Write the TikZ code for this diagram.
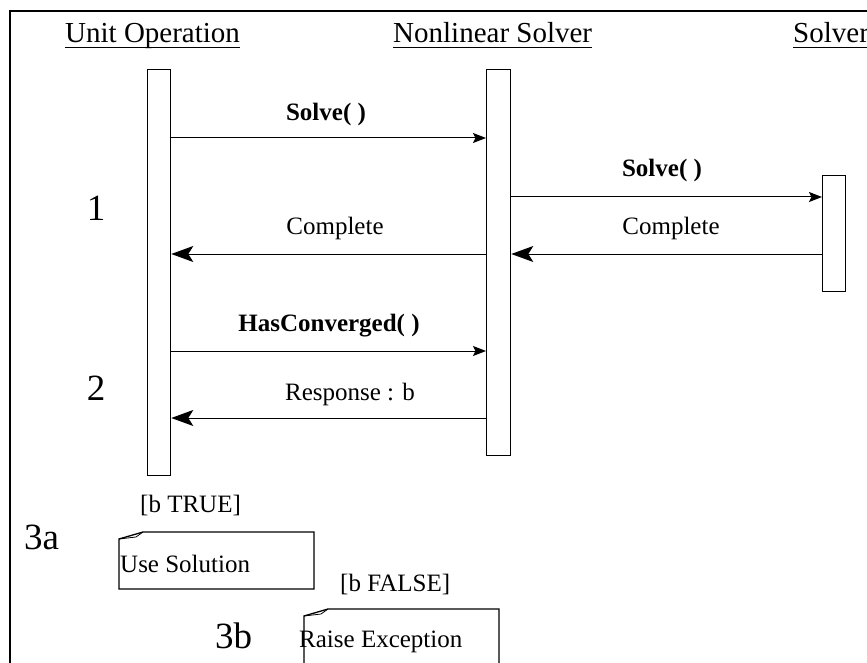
\documentclass[tikz,border=0pt]{standalone}
\usepackage{fontspec}
\setmainfont{Liberation Serif}
\usetikzlibrary{arrows.meta}

\begin{document}
\begin{tikzpicture}[x=1pt,y=-1pt,
  hdrfont/.style={font=\fontsize{29}{34}\selectfont},
  lblfont/.style={font=\fontsize{25}{30}\selectfont},
  numfont/.style={font=\fontsize{37}{42}\selectfont},
  header/.style={hdrfont,inner sep=0pt,anchor=base west},
  msg/.style={lblfont,inner sep=0pt,anchor=base},
  callmsg/.style={msg,font=\fontsize{25}{30}\selectfont\bfseries},
  stepnum/.style={numfont,inner sep=0pt,anchor=base west},
  bar/.style={draw,line width=1.3pt,fill=white,inner sep=0pt,anchor=north west,minimum width=23pt},
  call/.style={line width=1pt,-{Stealth[length=13pt,width=10pt,inset=2.5pt]}},
  ret/.style={line width=1pt,-{Stealth[length=22pt,width=16pt,inset=5pt]}},
  note/.style={line width=1.3pt,line join=miter},
  notetext/.style={lblfont,inner sep=0pt,anchor=base west}
]
\useasboundingbox (0,0) rectangle (867,663);
\clip (0,0) rectangle (867,663);

% outer frame (continues past the right and bottom edges)
\draw[line width=2.8pt] (10,720) -- (10,11) -- (920,11);

% participants
\node[header] (huo) at (65,43) {Unit Operation};
\node[header] (hnl) at (393,43) {Nonlinear Solver};
\node[header] (hsv) at (793,43) {Solver};
\foreach \h in {huo,hnl,hsv}
  \draw[line width=1pt] ([yshift=-4.5pt]\h.base west) -- ([yshift=-4.5pt]\h.base east);

% activation bars
\node[bar,minimum height=406pt] (uo) at (147,69) {};
\node[bar,minimum height=386pt,minimum width=24pt] (nl) at (486,69) {};
\node[bar,minimum height=116pt] (sv) at (822,175) {};

% message levels
\coordinate (m1) at (0,138);
\coordinate (m2) at (0,197);
\coordinate (m3) at (0,254);
\coordinate (m4) at (0,351);
\coordinate (m5) at (0,418);

% messages
\draw[call] (uo.east |- m1) -- (nl.west |- m1);
\node[callmsg] (l1) at (326,121) {Solve( )};

\draw[call] (nl.east |- m2) -- (sv.west |- m2);
\node[callmsg] (l2) at (662,177) {Solve( )};

\draw[ret] (nl.west |- m3) -- (uo.east |- m3);
\node[msg] (l3) at (335,234) {Complete};

\draw[ret] (sv.west |- m3) -- (nl.east |- m3);
\node[msg] (l4) at (671,234) {Complete};

\draw[call] (uo.east |- m4) -- (nl.west |- m4);
\node[callmsg] (l5) at (329,331) {HasConverged( )};

\draw[ret] (nl.west |- m5) -- (uo.east |- m5);
\node[msg] (l6) at (350,400) {Response : b};

% step numbers
\node[numfont,inner sep=0pt,anchor=base] (s1) at (96,220) {1};
\node[numfont,inner sep=0pt,anchor=base] (s2) at (96,400) {2};
\node[stepnum] (s3a) at (24,549) {3a};
\node[stepnum] (s3b) at (215,648) {3b};

% guards
\node[notetext] (g1) at (140,512) {[b TRUE]};
\node[notetext] (g2) at (340,591) {[b FALSE]};

% notes with folded corner
\draw[note,fill=white] (119,589) -- (119,539) -- (143,532) -- (314,532) -- (314,589) -- cycle;
\draw[line width=0.8pt] (119,539) -- (136,537) -- (143,532);
\node[notetext] (n1) at (120,572) {Use Solution};

\draw[note,fill=white] (304,700) -- (304,616) -- (328,609) -- (499,609) -- (499,700);
\draw[line width=0.8pt] (304,616) -- (321,614) -- (328,609);
\node[notetext] (n2) at (299,647) {Raise Exception};
\end{tikzpicture}
\end{document}
